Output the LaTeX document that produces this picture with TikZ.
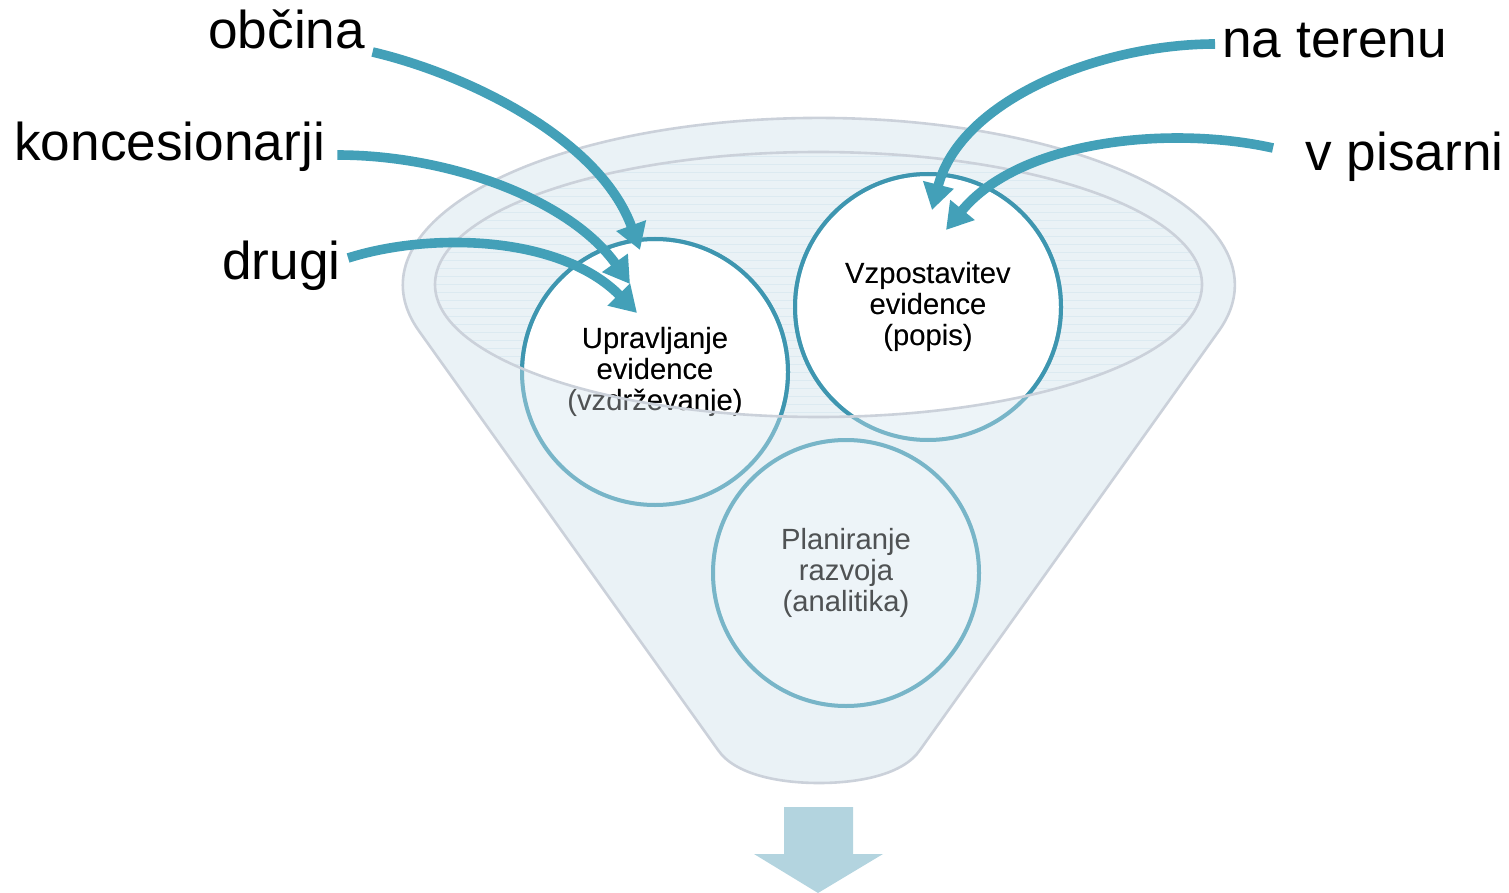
\documentclass[tikz,border=0pt]{standalone}
\usepackage{fontspec}
\setmainfont{Liberation Sans}
\usetikzlibrary{arrows.meta}
\definecolor{teal1}{HTML}{43A0B8}
\definecolor{ringc}{HTML}{3E96B0}
\definecolor{rimc}{HTML}{CBD1DA}
\definecolor{bodyc}{HTML}{EAF2F6}
\definecolor{overc}{HTML}{EBF3F7}
\definecolor{linec}{HTML}{DCEAF1}
\definecolor{outarrow}{HTML}{B3D4DF}
\begin{document}
\begin{tikzpicture}[x=0.5pt,y=-0.5pt,
  lbl/.style={font=\fontsize{26.6}{30}\selectfont, inner sep=0pt, anchor=base west},
  circtext/.style={font=\fontsize{14.6}{15.5}\selectfont, align=center, inner sep=0pt},
  bubble/.style={circle, draw=ringc, line width=2pt, fill=white, minimum size=133pt, inner sep=0pt, circtext},
  ringline/.style={draw=ringc, line width=2pt},
  rimline/.style={draw=rimc, line width=1.3pt},
  feed/.style={draw=teal1, line width=4.8pt, -{Triangle[width=15pt,length=13pt]}},
]
\useasboundingbox (0,0) rectangle (1509,893);

% funnel body (back)
\path[fill=bodyc] (419,331) arc[start angle=164,end angle=376,x radius=416,y radius=167]
  -- (920,750) .. controls (903,775) and (858,783) .. (819,783)
  .. controls (780,783) and (735,775) .. (718,750) -- cycle;

% texture inside the mouth
\begin{scope}
  \clip (818.5,284.5) ellipse[x radius=383.5, y radius=132.5];
  \foreach \y in {156,164,...,416} \draw[linec, line width=0.4pt] (430,\y) -- (1210,\y);
\end{scope}

% circles
\node[bubble] (u) at (655,372) {Upravljanje\\evidence\\(vzdrževanje)};
\node[bubble] (v) at (928,307) {Vzpostavitev\\evidence\\(popis)};
\node[bubble] (p) at (846,573) {Planiranje\\razvoja\\(analitika)};

% front of the funnel (semi-transparent)
\fill[overc, opacity=0.85, even odd rule] (419,331) arc[start angle=164,end angle=376,x radius=416,y radius=167]
  -- (920,750) .. controls (903,775) and (858,783) .. (819,783)
  .. controls (780,783) and (735,775) .. (718,750) -- cycle
  (818.5,284.5) ellipse[x radius=383.5, y radius=132.5];

% see-through of circles and texts
\foreach \n in {u,v,p} \draw[ringline, opacity=0.6] (\n.center) circle[radius=66.5pt];
\node[circtext, opacity=0.6] at (u) {Upravljanje\\evidence\\(vzdrževanje)};
\node[circtext, opacity=0.6] at (v) {Vzpostavitev\\evidence\\(popis)};
\node[circtext, opacity=0.6] at (p) {Planiranje\\razvoja\\(analitika)};

% outlines
\path[rimline] (419,331) arc[start angle=164,end angle=376,x radius=416,y radius=167]
  -- (920,750) .. controls (903,775) and (858,783) .. (819,783)
  .. controls (780,783) and (735,775) .. (718,750) -- cycle;
\draw[rimline] (818.5,284.5) ellipse[x radius=383.5, y radius=132.5];

% output arrow
\fill[outarrow] (784,807) -- (853,807) -- (853,854) -- (883,854) -- (818,893) -- (754,854) -- (784,854) -- cycle;

% labels
\node[lbl] (ob) at (208,49) {občina};
\node[lbl] (ko) at (14,161) {koncesionarji};
\node[lbl] (dr) at (222,279) {drugi};
\node[lbl] (nt) at (1222,58) {na terenu};
\node[lbl] (vp) at (1305,171) {v pisarni};

% arrow tips
\coordinate (t1) at (640,250);
\coordinate (t2) at (630,284);
\coordinate (t3) at (637,313);
\coordinate (t4) at (932,210);
\coordinate (t5) at (946,230);

% feeding arrows
\draw[feed] ([shift={(7,3)}]ob.base east) .. controls (470,75) and (600,140) .. (t1);
\draw[feed] ([shift={(12,-6)}]ko.base east) .. controls (450,155) and (570,200) .. (t2);
\draw[feed] ([shift={(7,-21)}]dr.base east) .. controls (430,232) and (560,235) .. (t3);
\draw[feed] ([shift={(-7,-14)}]nt.base west) .. controls (1100,44) and (960,100) .. (t4);
\draw[feed] ([shift={(-32,-23)}]vp.base west) .. controls (1170,125) and (1020,140) .. (t5);
\end{tikzpicture}
\end{document}
